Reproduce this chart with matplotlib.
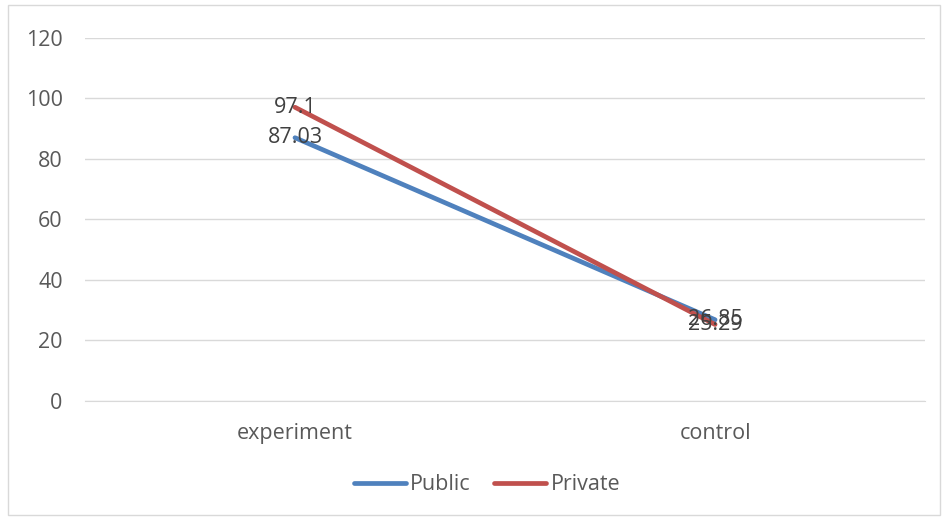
import matplotlib.pyplot as plt
from matplotlib.patches import Rectangle

categories = ["experiment", "control"]
public = [87.03, 26.85]
private = [97.1, 25.29]
yticks = [0, 20, 40, 60, 80, 100, 120]

TEXT = "#595959"
GRID = "#d9d9d9"
FS = 15.5

plt.rcParams["font.family"] = ["Open Sans", "DejaVu Sans"]

fig = plt.figure(figsize=(9.44, 5.19), dpi=100)
fig.patches.append(Rectangle((0.008, 0.008), 0.988, 0.982, transform=fig.transFigure,
                             fill=False, edgecolor=GRID, linewidth=1))
ax = fig.add_axes([0.090, 0.2274, 0.890, 0.6994])

x = range(len(categories))
ax.plot(x, public, color="#4F81BD", linewidth=3.4, solid_capstyle="round", label="Public")
ax.plot(x, private, color="#C0504D", linewidth=3.4, solid_capstyle="round", label="Private")

for vals in (public, private):
    for xi, v in zip(x, vals):
        ax.text(xi, v, f"{v:g}", ha="center", va="center", fontsize=FS, color="#404040")

ax.set_xlim(-0.5, 1.5)
ax.set_ylim(0, 120)
ax.set_yticks(yticks)
ax.set_xticks(list(x))
ax.set_xticklabels(categories)
ax.grid(axis="y", color=GRID, linewidth=1)
ax.set_axisbelow(True)
for s in ("top", "right", "left"):
    ax.spines[s].set_visible(False)
ax.spines["bottom"].set_color(GRID)
ax.tick_params(length=0, labelsize=FS, colors=TEXT)
ax.tick_params(axis="x", pad=16)
ax.tick_params(axis="y", pad=16)

fig.legend(loc="center", bbox_to_anchor=(0.516, 0.066), ncol=2, frameon=False,
           fontsize=FS, labelcolor=TEXT, handlelength=2.4, handletextpad=0.2,
           columnspacing=1.1)

fig.savefig("out.png", dpi=100)
